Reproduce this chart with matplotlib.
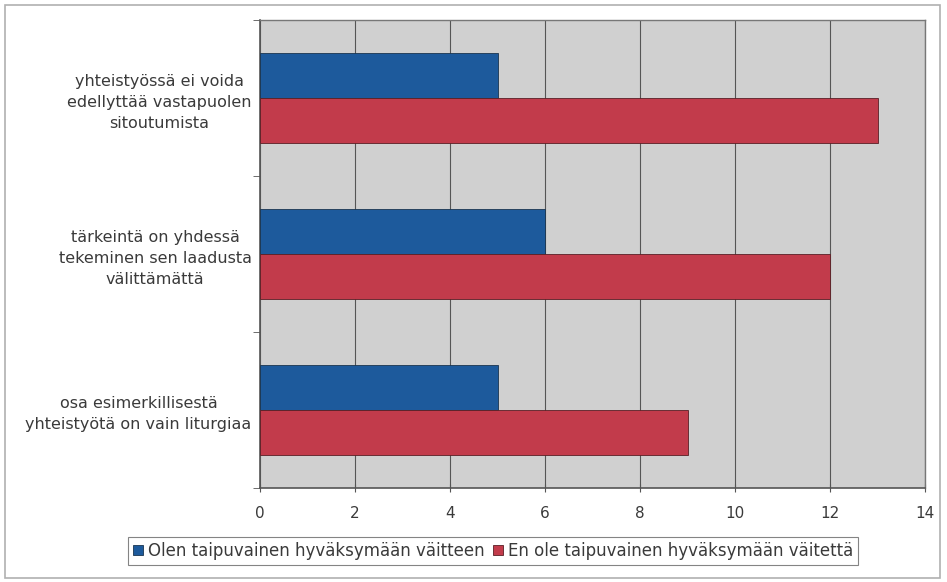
import matplotlib.pyplot as plt
from matplotlib.patches import Rectangle

# data (bottom category first, as drawn by the original chart)
categories = [
    "osa esimerkillisestä\nyhteistyötä on vain liturgiaa",
    "tärkeintä on yhdessä\ntekeminen sen laadusta\nvälittämättä",
    "yhteistyössä ei voida\nedellyttää vastapuolen\nsitoutumista",
]
agree = [5, 6, 5]
disagree = [9, 12, 13]
series_names = [
    "Olen taipuvainen hyväksymään väitteen",
    "En ole taipuvainen hyväksymään väitettä",
]
x_ticks = [0, 2, 4, 6, 8, 10, 12, 14]

blue = "#1d5a9c"
red = "#c23b4b"
txt = "#3a3a3a"

fig = plt.figure(figsize=(9.47, 5.82), dpi=100)
fig.patches.append(Rectangle((5 / 947, 4 / 582), 935 / 947, 573 / 582,
                             transform=fig.transFigure, fill=False,
                             edgecolor="#b0b0b0", linewidth=1.2))

ax = fig.add_axes([260 / 947, 1 - 488 / 582, 665 / 947, 468 / 582])
ax.set_facecolor("#d0d0d0")

ypos = list(range(len(categories)))
h = 0.29
ax.barh([y + h / 2 for y in ypos], agree, height=h, color=blue,
        edgecolor="#1a3550", linewidth=0.6, label=series_names[0], zorder=3)
ax.barh([y - h / 2 for y in ypos], disagree, height=h, color=red,
        edgecolor="#5a1f25", linewidth=0.6, label=series_names[1], zorder=3)

ax.set_xlim(0, 14)
ax.set_ylim(-0.5, 2.5)
ax.set_xticks(x_ticks)
ax.set_xticklabels([str(t) for t in x_ticks], fontsize=11, color=txt)
ax.tick_params(axis="x", direction="inout", length=6, pad=10, color="#555555")
ax.grid(axis="x", color="#555555", linewidth=0.8, zorder=1)

ax.set_yticks(ypos)
ax.set_yticklabels(categories, fontsize=11.5, color=txt,
                   multialignment="center", linespacing=1.5)
ax.tick_params(axis="y", which="major", length=0, pad=6)
ax.set_yticks([-0.5, 0.5, 1.5, 2.5], minor=True)
ax.tick_params(axis="y", which="minor", length=5, color="#555555")

for side in ["left", "bottom"]:
    ax.spines[side].set_color("#555555")
    ax.spines[side].set_linewidth(1.2)
for side in ["top", "right"]:
    ax.spines[side].set_color("#777777")
    ax.spines[side].set_linewidth(1.0)

leg = fig.legend(loc="center", bbox_to_anchor=(493 / 947, 1 - 551 / 582),
                 ncol=2, fontsize=12, frameon=True, fancybox=False,
                 edgecolor="#666666", handlelength=0.6, handleheight=0.6,
                 handletextpad=0.3, columnspacing=0.5, borderpad=0.3,
                 labelcolor=txt)
leg.get_frame().set_linewidth(0.8)

fig.savefig("out.png", dpi=100)
